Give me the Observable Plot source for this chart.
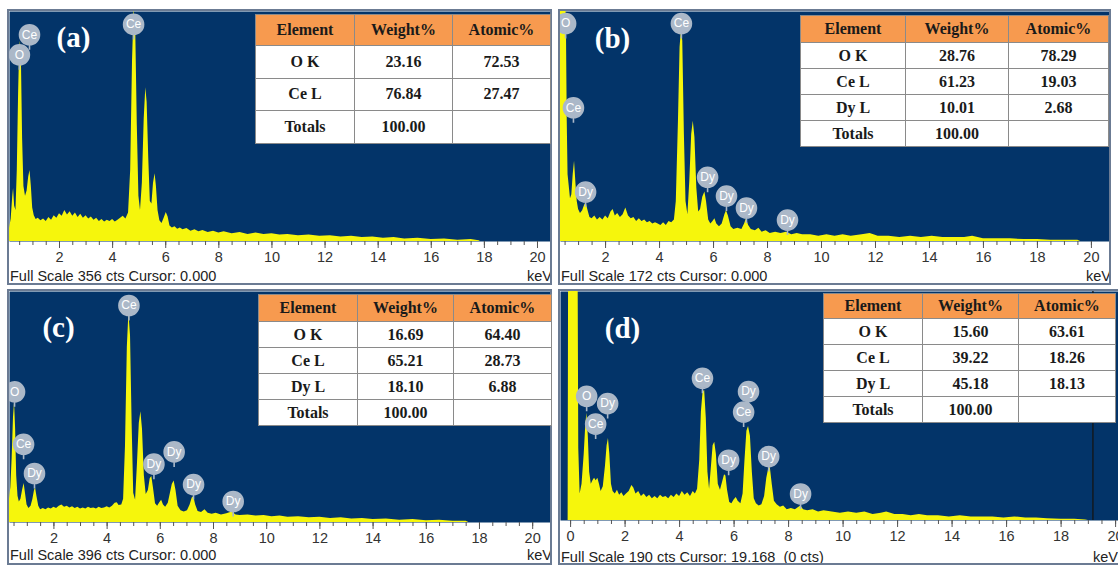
<!DOCTYPE html>
<html>
<head>
<meta charset="utf-8">
<script src="https://cdn.jsdelivr.net/npm/d3@7"></script>
<script src="https://cdn.jsdelivr.net/npm/@observablehq/plot@0.6"></script>
<style>
  html, body { margin: 0; padding: 0; background: #fff; }
  body { width: 1118px; height: 565px; overflow: hidden; position: relative; }
  .panel { position: absolute; border: 2px solid #6b7b93; background: #fff; overflow: hidden; }
  .panel svg { display: block; }
  .cap { position: absolute; font: 14.5px "Liberation Sans", Arial, sans-serif; color: #222; white-space: pre; line-height: 16px; }
  table.eds { position: absolute; border-collapse: collapse; table-layout: fixed; font: bold 16px "Liberation Serif", "Times New Roman", serif; color: #1a1a1a; }
  table.eds td, table.eds th { border: 1px solid #8a8a8a; background: #fff; text-align: center; padding: 0; font-weight: bold; }
  table.eds th { background: #f79a4f; }
</style>
</head>
<body>
<script>
// ---------- data ----------
const spectrumA = [[0.12,20],[0.18,35],[0.24,70],[0.27,82],[0.31,55],[0.36,48],[0.41,110],[0.46,230],[0.5,300],[0.53,310],[0.57,270],[0.61,160],[0.66,85],[0.72,70],[0.78,78],[0.84,100],[0.89,110],[0.94,85],[0.99,52],[1.05,40],[1.12,34],[1.2,36],[1.3,32],[1.4,35],[1.5,31],[1.6,37],[1.7,33],[1.8,40],[1.9,36],[2.0,43],[2.1,39],[2.2,48],[2.3,41],[2.4,46],[2.5,39],[2.6,44],[2.7,37],[2.8,42],[2.9,36],[3.0,40],[3.1,35],[3.2,38],[3.3,33],[3.4,36],[3.5,31],[3.6,34],[3.7,30],[3.8,33],[3.9,31],[4.0,34],[4.1,30],[4.2,33],[4.3,36],[4.4,39],[4.5,35],[4.6,44],[4.68,110],[4.75,280],[4.81,360],[4.87,330],[4.93,180],[4.99,70],[5.05,48],[5.12,90],[5.19,190],[5.25,238],[5.3,215],[5.36,130],[5.42,62],[5.48,58],[5.54,90],[5.6,105],[5.65,85],[5.71,48],[5.78,32],[5.86,28],[5.94,36],[6.02,45],[6.09,38],[6.16,24],[6.25,21],[6.35,23],[6.45,19],[6.55,21],[6.65,18],[6.8,20],[6.95,16],[7.1,18],[7.25,15],[7.4,17],[7.6,14],[7.8,16],[8.0,13],[8.2,15],[8.5,12],[8.8,14],[9.1,11],[9.4,13],[9.7,11],[10.0,12],[10.3,10],[10.6,11],[11.0,9],[11.4,10],[11.8,8],[12.2,9],[12.6,7],[13.0,8],[13.4,6],[13.8,7],[14.2,5],[14.6,6],[15.0,4],[15.5,5],[16.0,3],[16.5,4],[17.0,2],[17.5,3],[17.8,1],[17.85,0],[20.5,0]];

const spectrumB = [[0.33,190],[0.5,200],[0.55,160],[0.58,90],[0.61,50],[0.65,42],[0.7,32],[0.75,35],[0.8,50],[0.85,60],[0.9,44],[0.95,30],[1.0,24],[1.07,21],[1.15,23],[1.22,27],[1.28,29],[1.34,24],[1.42,18],[1.5,17],[1.6,19],[1.7,16],[1.8,18],[1.9,16],[2.0,19],[2.1,17],[2.2,22],[2.28,24],[2.36,19],[2.45,21],[2.55,18],[2.65,20],[2.75,25],[2.85,19],[2.95,17],[3.05,18],[3.15,15],[3.25,17],[3.35,15],[3.45,16],[3.55,14],[3.65,15],[3.75,13],[3.85,14],[3.95,13],[4.05,12],[4.15,14],[4.25,12],[4.35,15],[4.45,14],[4.55,16],[4.62,30],[4.7,90],[4.76,145],[4.81,158],[4.86,150],[4.92,80],[4.98,30],[5.05,20],[5.12,45],[5.19,80],[5.25,90],[5.31,78],[5.38,40],[5.45,22],[5.52,24],[5.6,33],[5.68,37],[5.74,30],[5.82,16],[5.9,13],[5.98,15],[6.05,17],[6.12,13],[6.22,11],[6.32,13],[6.42,20],[6.48,23],[6.55,19],[6.65,11],[6.75,9],[6.9,10],[7.05,9],[7.15,13],[7.22,17],[7.3,12],[7.4,9],[7.55,8],[7.68,10],[7.8,7],[7.95,8],[8.1,6],[8.3,7],[8.5,6],[8.7,7],[8.9,5],[9.1,6],[9.3,5],[9.6,5],[9.9,4],[10.2,5],[10.5,4],[10.8,5],[11.1,4],[11.5,5],[11.8,6],[12.1,4],[12.5,4],[12.9,3],[13.3,4],[13.7,3],[14.1,4],[14.5,3],[14.9,3],[15.3,3],[15.6,4],[16.0,2],[16.5,2],[17.0,2],[17.5,1.5],[18.0,1.5],[18.5,1],[19.0,1],[19.5,1],[19.6,0],[20.7,0]];

const spectrumC = [[0.33,40],[0.38,60],[0.43,110],[0.48,180],[0.52,206],[0.56,160],[0.6,80],[0.65,45],[0.7,35],[0.76,40],[0.82,55],[0.88,67],[0.93,50],[0.99,30],[1.06,24],[1.14,28],[1.21,40],[1.27,55],[1.31,59],[1.36,45],[1.43,28],[1.5,22],[1.6,24],[1.7,22],[1.8,25],[1.9,23],[2.0,26],[2.1,24],[2.2,28],[2.3,30],[2.4,26],[2.5,28],[2.6,25],[2.7,27],[2.8,24],[2.9,26],[3.0,23],[3.1,25],[3.2,23],[3.3,26],[3.4,24],[3.5,25],[3.6,23],[3.7,26],[3.8,24],[3.9,25],[4.0,27],[4.1,25],[4.2,28],[4.3,33],[4.38,34],[4.45,29],[4.55,30],[4.62,40],[4.69,130],[4.76,300],[4.82,360],[4.88,320],[4.94,170],[5.0,50],[5.07,38],[5.14,100],[5.21,170],[5.27,190],[5.33,160],[5.4,80],[5.47,48],[5.55,55],[5.62,75],[5.68,79],[5.74,60],[5.82,32],[5.9,28],[5.98,34],[6.05,38],[6.12,30],[6.2,26],[6.3,33],[6.38,50],[6.45,65],[6.52,71],[6.59,55],[6.67,28],[6.78,20],[6.9,18],[7.02,20],[7.12,30],[7.2,42],[7.26,44],[7.33,30],[7.42,19],[7.55,17],[7.68,22],[7.8,16],[7.95,14],[8.1,16],[8.3,13],[8.5,15],[8.7,18],[8.85,13],[9.0,12],[9.3,13],[9.6,11],[9.9,12],[10.2,10],[10.5,11],[10.8,9],[11.2,10],[11.6,8],[12.0,9],[12.4,7],[12.8,8],[13.2,6],[13.6,7],[14.0,5],[14.5,6],[15.0,4],[15.5,5],[16.0,3],[16.5,4],[17.0,2],[17.5,2],[17.6,0],[20.7,0]];

const spectrumD = [[-0.37,0],[-0.09,0],[-0.07,250],[0.27,250],[0.3,60],[0.35,22],[0.42,30],[0.5,55],[0.56,80],[0.6,89],[0.65,70],[0.7,40],[0.76,30],[0.82,33],[0.88,35],[0.94,33],[1.0,35],[1.06,30],[1.12,24],[1.2,28],[1.28,45],[1.34,62],[1.39,68],[1.44,55],[1.5,30],[1.56,24],[1.64,22],[1.72,25],[1.8,21],[1.88,23],[1.96,20],[2.05,22],[2.15,24],[2.25,29],[2.32,27],[2.4,22],[2.5,24],[2.6,20],[2.7,22],[2.8,19],[2.9,21],[3.0,18],[3.1,20],[3.2,18],[3.3,21],[3.4,19],[3.5,20],[3.6,18],[3.7,21],[3.8,19],[3.9,22],[4.0,20],[4.1,24],[4.2,21],[4.3,23],[4.4,20],[4.5,24],[4.58,22],[4.66,26],[4.74,50],[4.8,90],[4.86,106],[4.92,108],[4.98,85],[5.04,40],[5.1,26],[5.17,45],[5.23,62],[5.29,65],[5.35,55],[5.42,30],[5.5,25],[5.58,32],[5.65,38],[5.7,37],[5.76,25],[5.84,15],[5.92,14],[6.0,17],[6.08,19],[6.15,16],[6.25,14],[6.33,22],[6.4,50],[6.47,74],[6.53,78],[6.6,70],[6.67,40],[6.74,18],[6.82,14],[6.92,12],[7.02,13],[7.12,20],[7.2,35],[7.27,43],[7.33,44],[7.4,30],[7.48,16],[7.58,13],[7.7,11],[7.82,12],[7.95,9],[8.1,10],[8.25,9],[8.38,11],[8.45,12],[8.55,9],[8.7,8],[8.9,9],[9.1,7],[9.3,8],[9.6,7],[9.9,6],[10.2,7],[10.5,6],[10.8,7],[11.1,5],[11.4,6],[11.6,7],[11.9,5],[12.2,5],[12.5,4],[12.8,5],[13.1,4],[13.5,4],[13.9,3],[14.3,4],[14.7,3],[15.1,3],[15.5,3],[15.9,2],[16.3,3],[16.7,2],[17.1,2],[17.5,1.5],[18.0,1],[18.5,1],[18.9,0.5],[19.0,0],[20.2,0]];

// peak marker labels: element, energy (keV), counts at bubble centre
const markElA = ["Ce", "O", "Ce"];
const markKeVA = [0.87, 0.49, 4.79];
const markCtsA = [320, 289, 336];

const markElB = ["O", "Ce", "Dy", "Ce", "Dy", "Dy", "Dy", "Dy"];
const markKeVB = [0.52, 0.81, 1.26, 4.81, 5.78, 6.48, 7.22, 8.74];
const markCtsB = [163, 100, 37, 163, 48, 34, 25, 16];

const markElC = ["O", "Ce", "Dy", "Ce", "Dy", "Dy", "Dy", "Dy"];
const markKeVC = [0.52, 0.86, 1.27, 4.82, 5.76, 6.52, 7.25, 8.74];
const markCtsC = [224, 134, 84, 372, 100, 121, 65, 36];

const markElD = ["O", "Dy", "Ce", "Ce", "Dy", "Ce", "Dy", "Dy", "Dy"];
const markKeVD = [0.59, 1.36, 0.92, 4.84, 6.53, 6.35, 5.8, 7.27, 8.44];
const markCtsD = [103, 97, 80, 118, 107, 90, 50, 53, 22];

const fullScale = [356, 172, 396, 190];
const cursorText = ["Cursor: 0.000", "Cursor: 0.000", "Cursor: 0.000", "Cursor: 19.168  (0 cts)"];
const cursorKeV = [null, null, null, 19.168];
const panelLabels = ["(a)", "(b)", "(c)", "(d)"];

const majorTicks = [0, 2, 4, 6, 8, 10, 12, 14, 16, 18, 20];
const minorTicks = d3.range(0, 20.01, 0.5);

const tableHead = ["Element", "Weight%", "Atomic%"];
const elemA = ["O K", "Ce L", "Totals"];
const weightA = ["23.16", "76.84", "100.00"];
const atomicA = ["72.53", "27.47", ""];
const elemB = ["O K", "Ce L", "Dy L", "Totals"];
const weightB = ["28.76", "61.23", "10.01", "100.00"];
const atomicB = ["78.29", "19.03", "2.68", ""];
const elemC = ["O K", "Ce L", "Dy L", "Totals"];
const weightC = ["16.69", "65.21", "18.10", "100.00"];
const atomicC = ["64.40", "28.73", "6.88", ""];
const elemD = ["O K", "Ce L", "Dy L", "Totals"];
const weightD = ["15.60", "39.22", "45.18", "100.00"];
const atomicD = ["63.61", "18.26", "18.13", ""];

// ---------- layout ----------
const NAVY = "#033469";
const YELLOW = "#f6f60c";
const SANS = "Liberation Sans, Arial, sans-serif";

const mk = (els, es, cs) => els.map((el, i) => ({el, e: es[i], c: cs[i]}));

const panels = [
  {left: 7, top: 9, w: 541, h: 272, mb: 42, dom: [0.117, 20.49], spec: spectrumA,
   marks: mk(markElA, markKeVA, markCtsA), lx: 64, ly: 26, capTop: 257, kevLeft: 518,
   table: {left: 255, top: 14, cols: [99, 98, 98], head: 31, row: 32.5, elem: elemA, wt: weightA, at: atomicA}},
  {left: 558, top: 9, w: 549, h: 272, mb: 42, dom: [0.33, 20.67], spec: spectrumB,
   marks: mk(markElB, markKeVB, markCtsB), lx: 52, ly: 27, capTop: 257, kevLeft: 526,
   table: {left: 800, top: 15, cols: [105, 103, 100], head: 27, row: 26, elem: elemB, wt: weightB, at: atomicB}},
  {left: 7, top: 289, w: 541, h: 272, mb: 41, dom: [0.33, 20.67], spec: spectrumC,
   marks: mk(markElC, markKeVC, markCtsC), lx: 49, ly: 36, capTop: 256, kevLeft: 518,
   table: {left: 258, top: 294, cols: [99, 96, 98], head: 27, row: 26, elem: elemC, wt: weightC, at: atomicC}},
  {left: 558, top: 289, w: 560, h: 272, mb: 43, dom: [-0.37, 20.18], spec: spectrumD,
   marks: mk(markElD, markKeVD, markCtsD), lx: 62, ly: 37, capTop: 258, kevLeft: 533,
   table: {left: 823, top: 293, cols: [99, 96, 97], head: 25, row: 26, elem: elemD, wt: weightD, at: atomicD}}
];

const bubble = {
  draw(ctx, size) {
    const r = Math.sqrt(size / Math.PI);
    ctx.moveTo(r, 0);
    ctx.arc(0, 0, r, 0, 2 * Math.PI);
    ctx.moveTo(0, r);
    ctx.lineTo(0, r + 5);
  }
};

panels.forEach((p, i) => {
  const div = document.createElement("div");
  div.className = "panel";
  Object.assign(div.style, {left: p.left + "px", top: p.top + "px", width: p.w + "px", height: p.h + "px"});
  document.body.appendChild(div);

  const inDom = t => t >= p.dom[0] - 1e-9 && t <= p.dom[1] + 1e-9;
  const marks = [
    Plot.frame({fill: NAVY, stroke: null}),
    Plot.areaY(p.spec, {x: d => d[0], y: d => d[1], fill: YELLOW, curve: "linear", clip: true})
  ];
  if (cursorKeV[i] != null) marks.push(Plot.ruleX([cursorKeV[i]], {stroke: "#151515", strokeWidth: 1.3}));
  marks.push(
    Plot.axisX(minorTicks.filter(inDom), {anchor: "bottom", tickSize: 4, tickFormat: () => "", stroke: "#555", label: null}),
    Plot.axisX(majorTicks.filter(inDom), {anchor: "bottom", tickSize: 7, tickPadding: 3, fontSize: 14.5, fontFamily: SANS, stroke: "#555", label: null, tickFormat: d => String(d)}),
    Plot.dot(p.marks, {x: "e", y: "c", r: 10, symbol: bubble, fill: "#abb8c8", stroke: "#abb8c8", strokeWidth: 1.6}),
    Plot.text(p.marks, {x: "e", y: "c", text: "el", fill: "white", fontSize: 12, fontFamily: SANS}),
    Plot.text([panelLabels[i]], {frameAnchor: "top-left", dx: p.lx, dy: p.ly, text: d => d, fill: "white",
      fontSize: 29, fontWeight: "bold", fontFamily: "Liberation Serif, Times New Roman, serif", textAnchor: "middle", lineAnchor: "middle"})
  );

  const chart = Plot.plot({
    width: p.w, height: p.h,
    marginTop: 0, marginLeft: 0, marginRight: 0, marginBottom: p.mb,
    x: {domain: p.dom},
    y: {domain: [0, fullScale[i]], axis: null},
    style: {background: "transparent", color: "#333", overflow: "hidden"},
    marks
  });
  div.appendChild(chart);

  const cap = document.createElement("div");
  cap.className = "cap";
  cap.style.left = "1px";
  cap.style.top = p.capTop + "px";
  cap.textContent = "Full Scale " + fullScale[i] + " cts " + cursorText[i];
  div.appendChild(cap);

  const kev = document.createElement("div");
  kev.className = "cap";
  kev.style.left = p.kevLeft + "px";
  kev.style.top = p.capTop + "px";
  kev.textContent = "keV";
  div.appendChild(kev);

  // table
  const t = p.table;
  const tbl = document.createElement("table");
  tbl.className = "eds";
  const totalW = t.cols.reduce((a, b) => a + b, 0);
  Object.assign(tbl.style, {left: t.left + "px", top: t.top + "px", width: totalW + "px"});
  const cg = document.createElement("colgroup");
  t.cols.forEach(w => { const c = document.createElement("col"); c.style.width = w + "px"; cg.appendChild(c); });
  tbl.appendChild(cg);
  const hr = document.createElement("tr");
  hr.style.height = t.head + "px";
  tableHead.forEach(h => { const th = document.createElement("th"); th.textContent = h; hr.appendChild(th); });
  tbl.appendChild(hr);
  t.elem.forEach((e, r) => {
    const tr = document.createElement("tr");
    tr.style.height = t.row + "px";
    [e, t.wt[r], t.at[r]].forEach(v => { const td = document.createElement("td"); td.textContent = v; tr.appendChild(td); });
    tbl.appendChild(tr);
  });
  document.body.appendChild(tbl);
});
</script>
</body>
</html>
